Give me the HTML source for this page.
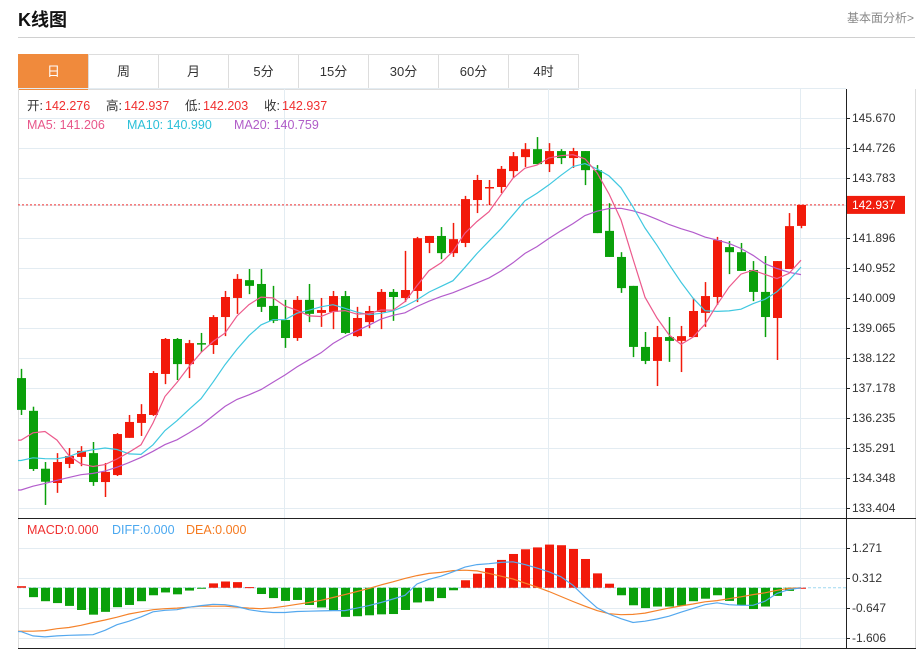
<!DOCTYPE html>
<html><head><meta charset="utf-8">
<style>
html,body{margin:0;padding:0;background:#fff;width:924px;height:651px;overflow:hidden;font-family:"Liberation Sans","Noto Sans CJK SC",sans-serif;}
#title{position:absolute;left:18px;top:6px;font-size:18px;font-weight:bold;color:#111;}
#more{position:absolute;right:10px;top:9px;font-size:12px;color:#888;}
#hr{position:absolute;left:18px;top:37px;width:897px;height:1px;background:#d0d0d0;}
#tabs{position:absolute;left:18px;top:54px;height:35px;display:flex;}
.tab{width:69px;height:34px;border:1px solid #ddd;border-right:none;text-align:center;line-height:34px;font-size:13px;color:#333;}
.tab.on{background:#f08a3c;color:#fff;border-color:#f08a3c;}
.tab:last-child{border-right:1px solid #ddd;}
svg{position:absolute;left:0;top:0;}
</style></head><body>
<div id="title">K线图</div>
<div id="more">基本面分析&gt;</div>
<div id="hr"></div>
<div id="tabs">
<div class="tab on">日</div>
<div class="tab">周</div>
<div class="tab">月</div>
<div class="tab">5分</div>
<div class="tab">15分</div>
<div class="tab">30分</div>
<div class="tab">60分</div>
<div class="tab">4时</div>
</div>
<svg id="chart" width="924" height="651"></svg>
<script>
const history=[132.2,132.5,132.9,133.2,133.5,133.4,133.1,133.3,133.2,133.1,133.8,134.5,134.9,134.3,133.8,133.47,134.03,136.2,137.5];
const opens=[137.49,136.46,134.64,134.19,134.79,135.01,135.13,134.22,134.44,135.61,136.08,136.33,137.62,138.72,137.93,138.59,138.53,139.41,140.01,140.57,140.45,139.76,139.32,138.75,139.95,139.54,139.57,140.07,138.81,139.25,139.57,140.20,140.01,140.23,141.74,141.96,141.42,141.74,143.09,143.47,143.50,144.00,144.44,144.69,144.22,144.63,144.41,144.63,144.03,142.12,141.30,140.39,138.47,138.03,138.78,138.66,138.78,139.54,140.04,141.61,141.45,140.89,140.20,139.38,140.92,142.276];
const highs=[137.78,136.59,134.85,135.13,135.29,135.35,135.48,134.82,135.76,136.33,136.67,137.71,138.75,138.75,138.69,138.91,139.47,140.23,140.76,140.92,140.92,140.39,139.95,140.07,140.45,140.01,140.23,140.23,139.73,139.76,140.29,140.29,141.49,141.93,141.96,142.24,142.37,143.22,143.88,143.72,144.16,144.60,144.88,145.07,144.88,144.69,144.73,144.63,144.19,142.99,141.45,140.39,138.94,139.13,139.41,139.13,140.01,140.51,141.93,141.80,141.74,141.17,141.33,141.17,142.68,142.937];
const lows=[136.33,134.57,133.50,133.88,134.66,134.72,134.10,133.75,134.41,135.61,135.67,136.30,137.30,137.43,137.49,138.31,138.25,138.81,139.51,140.13,139.57,139.22,138.44,138.66,139.25,139.10,139.03,138.88,138.78,139.06,139.03,139.29,139.88,139.88,141.42,141.23,141.30,141.61,142.68,142.93,143.31,143.78,144.13,144.22,143.97,144.22,144.10,143.56,142.05,141.30,140.17,138.15,137.93,137.24,138.00,137.68,138.78,139.10,139.79,140.76,140.86,139.91,138.78,138.06,140.92,142.203];
const closes=[136.49,134.63,134.23,134.85,135.04,135.20,134.22,134.54,135.73,136.11,136.36,137.65,138.72,137.93,138.59,138.56,139.41,140.04,140.61,140.39,139.73,139.29,138.75,139.95,139.51,139.63,140.07,138.91,139.38,139.60,140.20,140.04,140.26,141.89,141.96,141.42,141.86,143.12,143.72,143.50,144.07,144.47,144.69,144.22,144.63,144.41,144.63,144.03,142.05,141.30,140.32,138.47,138.03,138.78,138.66,138.81,139.60,140.07,141.83,141.45,140.86,140.20,139.41,141.17,142.27,142.937];
const priceTicks=["145.670","144.726","143.783","142.937","141.896","140.952","140.009","139.065","138.122","137.178","136.235","135.291","134.348","133.404"];
const macdTicks=[1.271,0.312,-0.647,-1.606];
const hist=[0.05,-0.30,-0.43,-0.49,-0.58,-0.71,-0.86,-0.77,-0.62,-0.55,-0.43,-0.24,-0.15,-0.21,-0.09,-0.02,0.14,0.20,0.18,0.02,-0.20,-0.33,-0.42,-0.39,-0.55,-0.63,-0.73,-0.93,-0.91,-0.88,-0.85,-0.84,-0.71,-0.47,-0.43,-0.33,-0.08,0.24,0.45,0.63,0.89,1.08,1.23,1.29,1.38,1.36,1.24,0.92,0.46,0.13,-0.24,-0.56,-0.65,-0.60,-0.60,-0.57,-0.43,-0.35,-0.24,-0.42,-0.56,-0.68,-0.60,-0.26,-0.10,0.0];
const diff=[-1.40,-1.54,-1.57,-1.54,-1.52,-1.51,-1.50,-1.36,-1.18,-1.07,-0.93,-0.77,-0.72,-0.70,-0.62,-0.57,-0.53,-0.54,-0.60,-0.70,-0.76,-0.79,-0.79,-0.76,-0.75,-0.74,-0.73,-0.73,-0.65,-0.57,-0.47,-0.36,-0.24,0.12,0.27,0.37,0.51,0.66,0.74,0.77,0.81,0.83,0.74,0.63,0.51,0.35,0.08,-0.30,-0.64,-0.84,-0.99,-1.11,-1.07,-1.00,-0.91,-0.78,-0.66,-0.54,-0.48,-0.54,-0.56,-0.56,-0.43,-0.18,-0.06,0.0];
const dea=[-1.39,-1.39,-1.37,-1.31,-1.27,-1.20,-1.11,-1.03,-0.94,-0.84,-0.77,-0.70,-0.67,-0.65,-0.62,-0.59,-0.59,-0.59,-0.62,-0.65,-0.67,-0.64,-0.59,-0.53,-0.47,-0.40,-0.31,-0.22,-0.12,-0.02,0.09,0.19,0.30,0.39,0.46,0.49,0.55,0.56,0.54,0.46,0.37,0.28,0.15,0.02,-0.12,-0.28,-0.44,-0.59,-0.73,-0.83,-0.86,-0.85,-0.81,-0.73,-0.65,-0.58,-0.52,-0.45,-0.41,-0.35,-0.29,-0.22,-0.16,-0.08,-0.02,0.0];

const NS="http://www.w3.org/2000/svg";
const svg=document.getElementById('chart');
function el(tag,attrs,parent){const e=document.createElementNS(NS,tag);for(const k in attrs)e.setAttribute(k,attrs[k]);(parent||svg).appendChild(e);return e;}
const L=18,R=843,AX=846,RB=915;
const pTop=118,pBot=508,pMin=+priceTicks[priceTicks.length-1],pMax=+priceTicks[0];
function yP(v){return pBot-(v-pMin)/(pMax-pMin)*(pBot-pTop);}
function xI(i){return 21+12*i;}
const mTop=548,mBot=638,mMax=macdTicks[0],mMin=macdTicks[3];
function yM(v){return mTop+(mMax-v)/(mMax-mMin)*(mBot-mTop);}

let g=el('g',{});


for(let i=0;i<priceTicks.length;i++){el('line',{x1:L,x2:AX,y1:yP(+priceTicks[i])+0.5,y2:yP(+priceTicks[i])+0.5,stroke:'#e3ecf2'},g);}
el('line',{x1:L,x2:AX,y1:88.5,y2:88.5,stroke:'#e3ecf2'},g);
[284,548,800].forEach(x=>{el('line',{x1:x+0.5,x2:x+0.5,y1:89,y2:648,stroke:'#e3ecf2'},g);});
macdTicks.forEach(t=>{el('line',{x1:L,x2:AX,y1:yM(t)+0.5,y2:yM(t)+0.5,stroke:'#e3ecf2'},g);});
el('line',{x1:L+0.5,x2:L+0.5,y1:89,y2:648,stroke:'#ddd'},g);
el('line',{x1:RB+0.5,x2:RB+0.5,y1:89,y2:648,stroke:'#ddd'},g);
el('line',{x1:AX+0.5,x2:AX+0.5,y1:89,y2:648,stroke:'#222'},g);
el('line',{x1:L,x2:RB+1,y1:518.5,y2:518.5,stroke:'#222'},g);
el('line',{x1:L,x2:RB+1,y1:648.5,y2:648.5,stroke:'#222'},g);

priceTicks.forEach(t=>{const y=yP(+t);
 el('line',{x1:AX,x2:AX+4,y1:y+0.5,y2:y+0.5,stroke:'#222'});
 const tx=el('text',{x:852,y:y+4,'font-size':12,fill:'#333'});tx.textContent=t;
 
 });
macdTicks.forEach(t=>{const y=yM(t);
 el('line',{x1:AX,x2:AX+4,y1:y+0.5,y2:y+0.5,stroke:'#222'});
 const tx=el('text',{x:852,y:y+4,'font-size':12,fill:'#333'});tx.textContent=t.toFixed(3);
 
 });

const lastC=closes[closes.length-1];
const lp=el('line',{x1:L,x2:AX,y1:yP(lastC),y2:yP(lastC),stroke:'#f03030','stroke-dasharray':'2,2'});


const lb=el('rect',{x:AX+1,y:yP(lastC)-9,width:58,height:18,fill:'#f01c0c'});


const lt=el('text',{x:852,y:yP(lastC)+4,'font-size':12,fill:'#fff'});lt.textContent=lastC.toFixed(3);



for(let i=0;i<closes.length;i++){
 const up=closes[i]>=opens[i];const c=up?'#f21a0a':'#0aa00a';const x=xI(i);
 const cg=el('g',{});
 
 
 el('line',{x1:x+0.5,x2:x+0.5,y1:yP(highs[i]),y2:yP(lows[i]),stroke:c,'stroke-width':1.5},cg);
 const t=yP(Math.max(opens[i],closes[i])),b=yP(Math.min(opens[i],closes[i]));
 el('rect',{x:x-4,y:t,width:9,height:Math.max(1.5,b-t),fill:c},cg);
}
const all=history.concat(closes);
function ma(n){const out=[];for(let i=0;i<closes.length;i++){const k=i+history.length;let s=0;for(let j=k-n+1;j<=k;j++)s+=all[j];out.push(s/n);}return out;}
[[20,'#b35ccc','ma20-line'],[10,'#40c8e0','ma10-line'],[5,'#ec5a8c','ma5-line']].forEach(([n,col,name])=>{
 const v=ma(n);let d='M'+L+','+yP(v[0]);v.forEach((a,i)=>{d+=' L'+xI(i)+','+yP(a).toFixed(1);});
 const p=el('path',{d:d,fill:'none',stroke:col,'stroke-width':1.2});
 
 
});

const z=yM(0);
const zl=el('line',{x1:L,x2:AX,y1:z,y2:z,stroke:'#9fd8f0','stroke-dasharray':'3,2'});


for(let i=0;i<hist.length;i++){const y=yM(hist[i]);const x=xI(i);
 const r=el('rect',{x:x-4,y:Math.min(y,z),width:9,height:Math.max(1,Math.abs(y-z)),fill:hist[i]>=0?'#f21a0a':'#0aa00a'});
 
 }
[[dea,'#f5822a','dea-line'],[diff,'#54a8ee','diff-line']].forEach(([arr,col,name])=>{
 let d='M'+L+','+yM(arr[0]);arr.forEach((a,i)=>{d+=' L'+xI(i)+','+yM(a).toFixed(1);});
 const p=el('path',{d:d,fill:'none',stroke:col,'stroke-width':1.2});
 
 
});

function txt(x,y,s,col,name){const t=el('text',{x:x,y:y,'font-size':12.5,fill:col});t.textContent=s;
 
 return t;}
txt(27,110,'开:','#333','open-label');txt(45,110,opens[opens.length-1].toFixed(3),'#f03030','open-value');
txt(106,110,'高:','#333','high-label');txt(124,110,highs[highs.length-1].toFixed(3),'#f03030','high-value');
txt(185,110,'低:','#333','low-label');txt(203,110,lows[lows.length-1].toFixed(3),'#f03030','low-value');
txt(264,110,'收:','#333','close-label');txt(282,110,lastC.toFixed(3),'#f03030','close-value');
txt(27,129,'MA5: 141.206','#e8578a','ma5-legend');
txt(127,129,'MA10: 140.990','#2cc0d8','ma10-legend');
txt(234,129,'MA20: 140.759','#b05cc8','ma20-legend');
txt(27,534,'MACD:0.000','#f03030','macd-legend');
txt(112,534,'DIFF:0.000','#4aa8f0','diff-legend');
txt(186,534,'DEA:0.000','#f57a20','dea-legend');
</script>
</body></html>
